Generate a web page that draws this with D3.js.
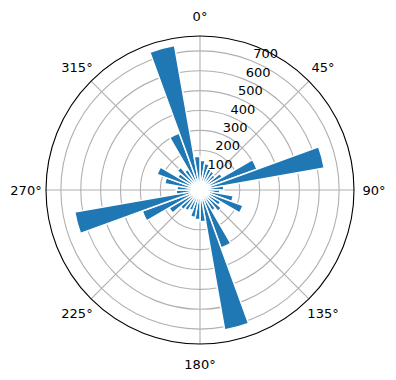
<!DOCTYPE html>
<html>
<head>
<meta charset="utf-8">
<script src="https://cdn.jsdelivr.net/npm/d3@7"></script>
<style>
  body { margin: 0; background: #fff; }
  text { font-family: "DejaVu Sans", sans-serif; font-size: 13px; fill: #000; }
</style>
</head>
<body>
<div id="polar_chart"></div>
<script>
// bin centres in degrees (clockwise from north), 10 degree bins
var binCenters = d3.range(5, 360, 10);
var binValues = [150, 135, 115, 110, 100, 130, 305, 635, 120,
                 100, 170, 230, 120, 140, 120, 310, 715, 160,
                 150, 140, 110, 120, 130, 180, 310, 640, 120,
                 115, 180, 230, 130, 150, 120, 305, 738, 170];
var rTicks = [100, 200, 300, 400, 500, 600, 700];
var thetaTicks = [0, 45, 90, 135, 180, 225, 270, 315];
var binWidth = 10;

var width = 396, height = 380;
var cx = 200, cy = 190, outerR = 154;

var svg = d3.select("#polar_chart")
    .append("svg")
    .attr("width", width)
    .attr("height", height)
    .append("g")
    .attr("transform", "translate(" + cx + "," + cy + ")");

var data = binCenters.map(function (c, i) { return { theta: c, r: binValues[i] }; });

// radial scale
var r = d3.scaleLinear()
    .domain([0, d3.max(binValues) * 1.05])
    .range([0, outerR]);

var rad = function (deg) { return deg * Math.PI / 180; };

// grid circles
svg.selectAll(".rgrid")
    .data(rTicks)
    .enter()
    .append("circle")
    .attr("r", function (d) { return r(d); })
    .attr("fill", "none")
    .attr("stroke", "#b0b0b0")
    .attr("stroke-width", 1.1);

// grid spokes
svg.selectAll(".tgrid")
    .data(thetaTicks)
    .enter()
    .append("line")
    .attr("x1", 0).attr("y1", 0)
    .attr("x2", function (d) { return outerR * Math.sin(rad(d)); })
    .attr("y2", function (d) { return -outerR * Math.cos(rad(d)); })
    .attr("stroke", "#b0b0b0")
    .attr("stroke-width", 1.1);

// bars
var arc = d3.arc()
    .innerRadius(0)
    .outerRadius(function (d) { return r(d.r); })
    .startAngle(function (d) { return rad(d.theta - binWidth / 2); })
    .endAngle(function (d) { return rad(d.theta + binWidth / 2); });

svg.selectAll(".bar")
    .data(data)
    .enter()
    .append("path")
    .attr("d", arc)
    .attr("fill", "#1f77b4")
    .attr("stroke", "#fff")
    .attr("stroke-width", 1.5)
    .attr("stroke-linejoin", "miter");

// outer frame
svg.append("circle")
    .attr("r", outerR)
    .attr("fill", "none")
    .attr("stroke", "#000")
    .attr("stroke-width", 1.1);

// radial labels at 22.5 degrees
svg.selectAll(".rlabel")
    .data(rTicks)
    .enter()
    .append("text")
    .attr("x", function (d) { return r(d) * Math.sin(rad(22.5)); })
    .attr("y", function (d) { return -r(d) * Math.cos(rad(22.5)) - 3; })
    .attr("text-anchor", "start")
    .text(function (d) { return d; });

// angle labels
svg.selectAll(".tlabel")
    .data(thetaTicks)
    .enter()
    .append("text")
    .attr("x", function (d) { return (outerR + 20) * Math.sin(rad(d)); })
    .attr("y", function (d) { return -(outerR + 20) * Math.cos(rad(d)); })
    .attr("text-anchor", "middle")
    .attr("dy", "0.35em")
    .text(function (d) { return d + "°"; });
</script>
</body>
</html>
